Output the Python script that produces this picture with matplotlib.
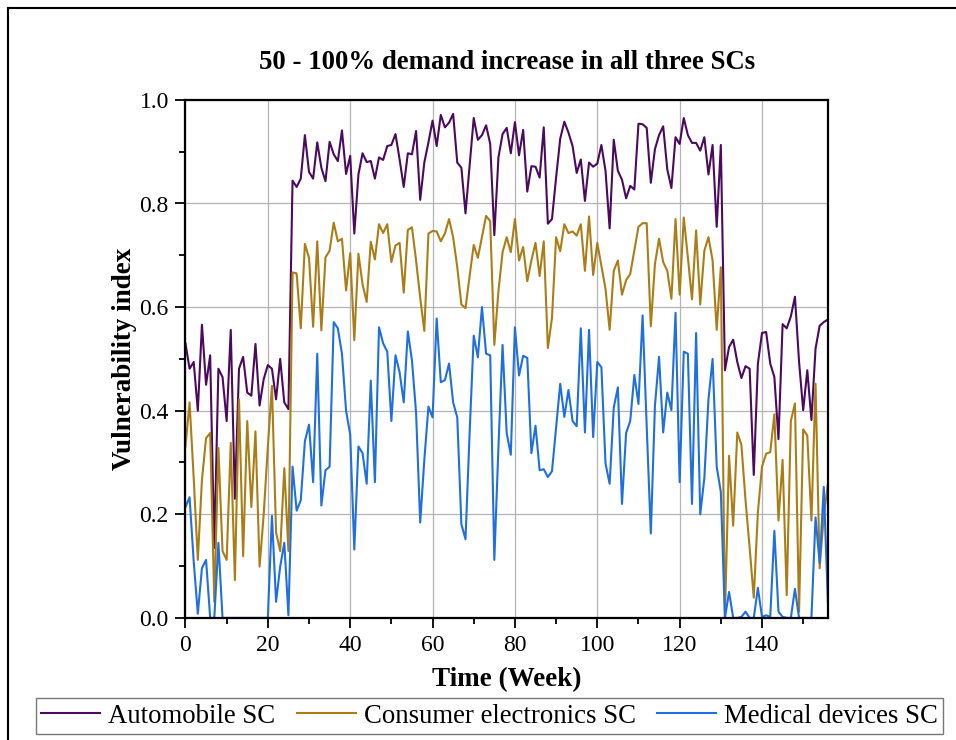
import matplotlib
matplotlib.use("Agg")
import matplotlib.pyplot as plt
from matplotlib.lines import Line2D
from matplotlib.ticker import MultipleLocator, FormatStrFormatter

# weekly vulnerability index, weeks 0..156
weeks = list(range(157))

automobile = [
    0.530, 0.481, 0.494, 0.400, 0.566, 0.450, 0.507, 0.135, 0.481, 0.465,
    0.380, 0.556, 0.230, 0.481, 0.504, 0.435, 0.429, 0.529, 0.410, 0.461,
    0.488, 0.481, 0.422, 0.500, 0.416, 0.403, 0.844, 0.832, 0.848, 0.932,
    0.861, 0.848, 0.918, 0.869, 0.843, 0.919, 0.895, 0.882, 0.941, 0.857,
    0.892, 0.742, 0.856, 0.897, 0.880, 0.882, 0.848, 0.889, 0.884, 0.911,
    0.913, 0.934, 0.885, 0.832, 0.897, 0.895, 0.940, 0.807, 0.879, 0.918,
    0.960, 0.911, 0.971, 0.947, 0.956, 0.973, 0.879, 0.869, 0.781, 0.873,
    0.965, 0.923, 0.932, 0.951, 0.915, 0.739, 0.889, 0.934, 0.946, 0.897,
    0.957, 0.893, 0.942, 0.823, 0.872, 0.871, 0.850, 0.947, 0.761, 0.770,
    0.850, 0.925, 0.958, 0.937, 0.911, 0.859, 0.885, 0.805, 0.879, 0.871,
    0.877, 0.913, 0.863, 0.752, 0.923, 0.863, 0.846, 0.810, 0.834, 0.827,
    0.954, 0.953, 0.946, 0.840, 0.905, 0.932, 0.949, 0.866, 0.830, 0.928,
    0.915, 0.965, 0.932, 0.917, 0.917, 0.902, 0.928, 0.856, 0.913, 0.755,
    0.913, 0.478, 0.523, 0.537, 0.494, 0.463, 0.486, 0.481, 0.276, 0.491,
    0.550, 0.552, 0.491, 0.465, 0.345, 0.567, 0.559, 0.582, 0.620, 0.494,
    0.401, 0.478, 0.382, 0.520, 0.564, 0.571, 0.576,
]

consumer_electronics = [
    0.331, 0.416, 0.270, 0.112, 0.266, 0.347, 0.357, 0.031, 0.328, 0.129,
    0.112, 0.338, 0.073, 0.422, 0.119, 0.380, 0.214, 0.360, 0.099, 0.200,
    0.330, 0.448, 0.165, 0.129, 0.289, 0.129, 0.667, 0.665, 0.559, 0.722,
    0.695, 0.562, 0.727, 0.555, 0.696, 0.709, 0.763, 0.727, 0.732, 0.632,
    0.704, 0.536, 0.703, 0.644, 0.610, 0.726, 0.692, 0.760, 0.743, 0.760,
    0.687, 0.719, 0.724, 0.628, 0.749, 0.754, 0.690, 0.618, 0.554, 0.742,
    0.747, 0.746, 0.727, 0.742, 0.770, 0.735, 0.677, 0.605, 0.598, 0.660,
    0.720, 0.695, 0.735, 0.776, 0.766, 0.527, 0.631, 0.706, 0.735, 0.706,
    0.770, 0.690, 0.716, 0.650, 0.690, 0.724, 0.660, 0.727, 0.521, 0.579,
    0.735, 0.708, 0.760, 0.743, 0.746, 0.738, 0.760, 0.670, 0.775, 0.662,
    0.724, 0.680, 0.635, 0.556, 0.670, 0.690, 0.624, 0.652, 0.664, 0.709,
    0.755, 0.762, 0.762, 0.563, 0.683, 0.732, 0.687, 0.670, 0.616, 0.770,
    0.624, 0.773, 0.696, 0.615, 0.748, 0.605, 0.709, 0.735, 0.690, 0.556,
    0.677, 0.000, 0.313, 0.178, 0.358, 0.334, 0.227, 0.135, 0.039, 0.204,
    0.292, 0.317, 0.320, 0.393, 0.188, 0.305, 0.044, 0.380, 0.414, 0.012,
    0.364, 0.352, 0.188, 0.452, 0.096, 0.197, 0.259,
]

medical_devices = [
    0.214, 0.233, 0.109, 0.008, 0.096, 0.112, 0.000, 0.000, 0.145, 0.000,
    0.000, 0.000, 0.000, 0.000, 0.000, 0.000, 0.000, 0.000, 0.000, 0.000,
    0.000, 0.197, 0.031, 0.099, 0.145, 0.005, 0.292, 0.207, 0.227, 0.341,
    0.373, 0.262, 0.510, 0.217, 0.285, 0.292, 0.571, 0.559, 0.510, 0.400,
    0.354, 0.132, 0.331, 0.318, 0.259, 0.458, 0.262, 0.561, 0.530, 0.514,
    0.380, 0.507, 0.474, 0.416, 0.553, 0.497, 0.396, 0.184, 0.305, 0.408,
    0.387, 0.578, 0.455, 0.459, 0.491, 0.416, 0.387, 0.181, 0.152, 0.357,
    0.545, 0.503, 0.600, 0.510, 0.507, 0.112, 0.330, 0.527, 0.357, 0.315,
    0.561, 0.468, 0.506, 0.502, 0.318, 0.371, 0.285, 0.287, 0.272, 0.283,
    0.367, 0.452, 0.388, 0.440, 0.380, 0.370, 0.559, 0.358, 0.556, 0.349,
    0.494, 0.484, 0.298, 0.259, 0.406, 0.445, 0.220, 0.357, 0.380, 0.469,
    0.413, 0.584, 0.370, 0.163, 0.409, 0.504, 0.358, 0.435, 0.401, 0.589,
    0.262, 0.514, 0.510, 0.220, 0.550, 0.200, 0.270, 0.422, 0.500, 0.292,
    0.243, 0.000, 0.050, 0.000, 0.000, 0.002, 0.012, 0.000, 0.000, 0.058,
    0.002, 0.005, 0.002, 0.168, 0.012, 0.002, 0.000, 0.000, 0.056, 0.000,
    0.000, 0.000, 0.000, 0.194, 0.106, 0.253, 0.030,
]

series_names = ["Automobile SC", "Consumer electronics SC", "Medical devices SC"]
colors = ["#4b0a5e", "#ab7d16", "#1f6fe0"]

plt.rcParams["font.family"] = ["Liberation Serif", "DejaVu Serif"]

fig = plt.figure(figsize=(9.56, 7.4), dpi=100)
ax = fig.add_axes([0.194, 0.165, 0.672, 0.700])

for vals, name, c in zip([automobile, consumer_electronics, medical_devices],
                         series_names, colors):
    ax.plot(weeks, vals, color=c, linewidth=1.5, label=name)

ax.set_xlim(0, 156)
ax.set_ylim(0, 1.0)
ax.xaxis.set_major_locator(MultipleLocator(20))
ax.xaxis.set_minor_locator(MultipleLocator(10))
ax.yaxis.set_major_locator(MultipleLocator(0.2))
ax.yaxis.set_minor_locator(MultipleLocator(0.1))
ax.yaxis.set_major_formatter(FormatStrFormatter("%.1f"))
ax.tick_params(which="major", direction="out", length=7, width=1.3,
               labelsize=17, pad=5)
ax.tick_params(which="minor", direction="out", length=4, width=1.3)
ax.tick_params(top=False, right=False)
ax.grid(True, which="major", color="#b4b4b4", linewidth=0.9)
for sp in ax.spines.values():
    sp.set_linewidth(1.6)

ax.set_title("50 - 100% demand increase in all three SCs", fontsize=19.3,
             fontweight="bold", pad=22)
ax.set_xlabel("Time (Week)", fontsize=19.5, fontweight="bold", labelpad=8)
ax.set_ylabel("Vulnerability index", fontsize=19.5, fontweight="bold", labelpad=2)

leg = fig.legend(loc="lower center", bbox_to_anchor=(0.512, 0.008), ncol=3,
                 fontsize=19.3, frameon=True, fancybox=False, handlelength=2.2,
                 columnspacing=0.8, handletextpad=0.3, borderpad=0.2,
                 borderaxespad=0.0)
leg.get_frame().set_edgecolor("#555555")
leg.get_frame().set_linewidth(1.0)

# page frame around the figure
fig.add_artist(Line2D([8 / 956, 1], [1 - 8 / 740, 1 - 8 / 740],
                      transform=fig.transFigure, color="black", linewidth=1.5))
fig.add_artist(Line2D([8 / 956, 8 / 956], [0, 1 - 8 / 740],
                      transform=fig.transFigure, color="black", linewidth=1.5))

fig.savefig("out.png", dpi=100)
